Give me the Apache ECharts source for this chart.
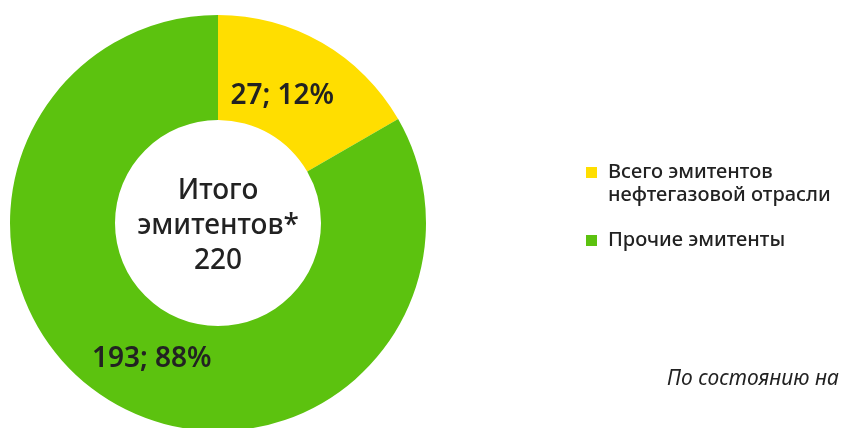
<!DOCTYPE html>
<html>
<head>
<meta charset="utf-8">
<script src="https://cdn.jsdelivr.net/npm/echarts@6/dist/echarts.min.js"></script>
<style>
  html, body { margin: 0; padding: 0; background: #fff; }
  #chart { width: 843px; height: 428px; }
</style>
</head>
<body>
<div id="chart"></div>
<script>
const names = ['Всего эмитентов\nнефтегазовой отрасли', 'Прочие эмитенты']
const values = [27, 193]
const colors = ['#ffde00', '#5cc20f']
const totalLabel = 'Итого\nэмитентов*'
const total = 220
const note = 'По состоянию на'

const FONT = 'Noto Sans'
const chart = echarts.init(document.getElementById('chart'))

// label nudges, per slice
const labelShift = [[-15, 10], [13, -1]]

const legendText = {
  fontFamily: FONT, fontSize: 20, fontWeight: 500, color: '#222',
  lineHeight: 23, padding: [0, 0, 0, 6]
}

const option = {
  backgroundColor: '#fff',
  animation: false,
  legend: [
    {
      orient: 'vertical',
      left: 581,
      top: 133,
      itemWidth: 11,
      itemHeight: 11,
      icon: 'rect',
      data: [names[0]],
      // empty first line so the first text line sits level with the square
      formatter: n => '\n' + n,
      textStyle: legendText
    },
    {
      orient: 'vertical',
      left: 581,
      top: 224,
      itemWidth: 11,
      itemHeight: 11,
      icon: 'rect',
      data: [names[1]],
      textStyle: legendText
    }
  ],
  graphic: [
    {
      type: 'text',
      x: 218,
      y: 226,
      style: {
        text: totalLabel + '\n' + total,
        fontFamily: FONT, fontSize: 28, fontWeight: 500, fill: '#222',
        lineHeight: 35, align: 'center', verticalAlign: 'middle'
      }
    },
    {
      type: 'text',
      left: 667,
      top: 369,
      style: {
        text: note,
        fontFamily: FONT, fontSize: 21, fontStyle: 'italic', fill: '#222'
      }
    }
  ],
  series: [{
    type: 'pie',
    center: [218, 223],
    radius: [103, 208],
    startAngle: 90,
    minAngle: 60,
    percentPrecision: 0,
    silent: true,
    label: {
      position: 'inside',
      formatter: '{c}; {d}%',
      fontFamily: FONT,
      fontSize: 28,
      fontWeight: 600,
      color: '#222'
    },
    labelLayout: function (params) {
      const s = labelShift[params.dataIndex]
      return { dx: s[0], dy: s[1] }
    },
    labelLine: { show: false },
    data: values.map((v, i) => ({
      name: names[i],
      value: v,
      itemStyle: { color: colors[i] }
    }))
  }]
}

chart.setOption(option)
</script>
</body>
</html>
